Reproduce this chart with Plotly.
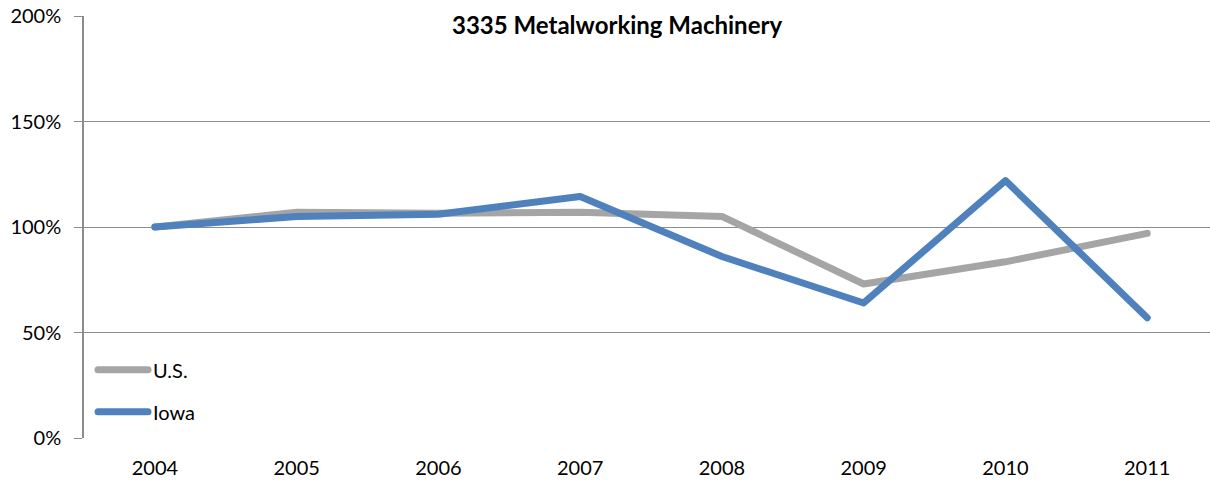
import plotly.graph_objects as go

years = ["2004", "2005", "2006", "2007", "2008", "2009", "2010", "2011"]
us_values = [100, 107, 106.5, 107, 105, 73, 83.5, 97]
iowa_values = [100, 105, 106, 114.5, 86, 64, 122, 57]
y_ticks = [0, 50, 100, 150, 200]
y_tick_labels = ["0%", "50%", "100%", "150%", "200%"]
title_text = "3335 Metalworking Machinery"

FONT = "Lato"
fig = go.Figure()
fig.add_trace(go.Scatter(x=years, y=us_values, name="U.S.", mode="lines",
                         line=dict(color="#A5A5A5", width=7), legendgroup="us"))
fig.add_trace(go.Scatter(x=years, y=iowa_values, name="Iowa", mode="lines",
                         line=dict(color="#4F81BD", width=7), legendgroup="ia"))

fig.update_layout(
    width=1210, height=484,
    margin=dict(l=84, r=0, t=16, b=46),
    paper_bgcolor="white", plot_bgcolor="white",
    font=dict(family=FONT, size=20, color="black"),
    showlegend=True,
    legend=dict(x=0.008, y=0.016, xanchor="left", yanchor="bottom",
                bgcolor="rgba(0,0,0,0)", tracegroupgap=13,
                font=dict(family=FONT, size=20, color="black"),
                itemwidth=50),
    xaxis=dict(type="category", range=[-0.5, 7.443], showgrid=False,
               showline=False, ticks="", zeroline=False, automargin=False,
               ticklabelstandoff=16,
               tickfont=dict(family=FONT, size=20)),
    yaxis=dict(range=[0, 200], tickvals=y_ticks, ticktext=y_tick_labels,
               showgrid=True, gridcolor="#8C8C8C", gridwidth=1.3,
               showline=True, linecolor="#8C8C8C", linewidth=1.5,
               ticks="outside", ticklen=8, tickcolor="#8C8C8C",
               zeroline=False, ticklabelstandoff=9, automargin=False,
               tickfont=dict(family=FONT, size=20)),
    annotations=[dict(text="<b>" + title_text + "</b>", xref="paper", yref="paper",
                      x=0.473, y=0.981, xanchor="center", yanchor="middle",
                      showarrow=False, bgcolor="white", borderpad=6,
                      font=dict(family=FONT, size=24, color="black"))],
)

post = """
document.body.style.margin = '0';
document.querySelectorAll('.scatterlayer .js-line, .legend .js-line').forEach(function(p){
  p.style.strokeLinecap = 'round'; p.style.strokeLinejoin = 'round';
});
"""
fig.write_html("out.html", post_script=post, config={"displayModeBar": False})
